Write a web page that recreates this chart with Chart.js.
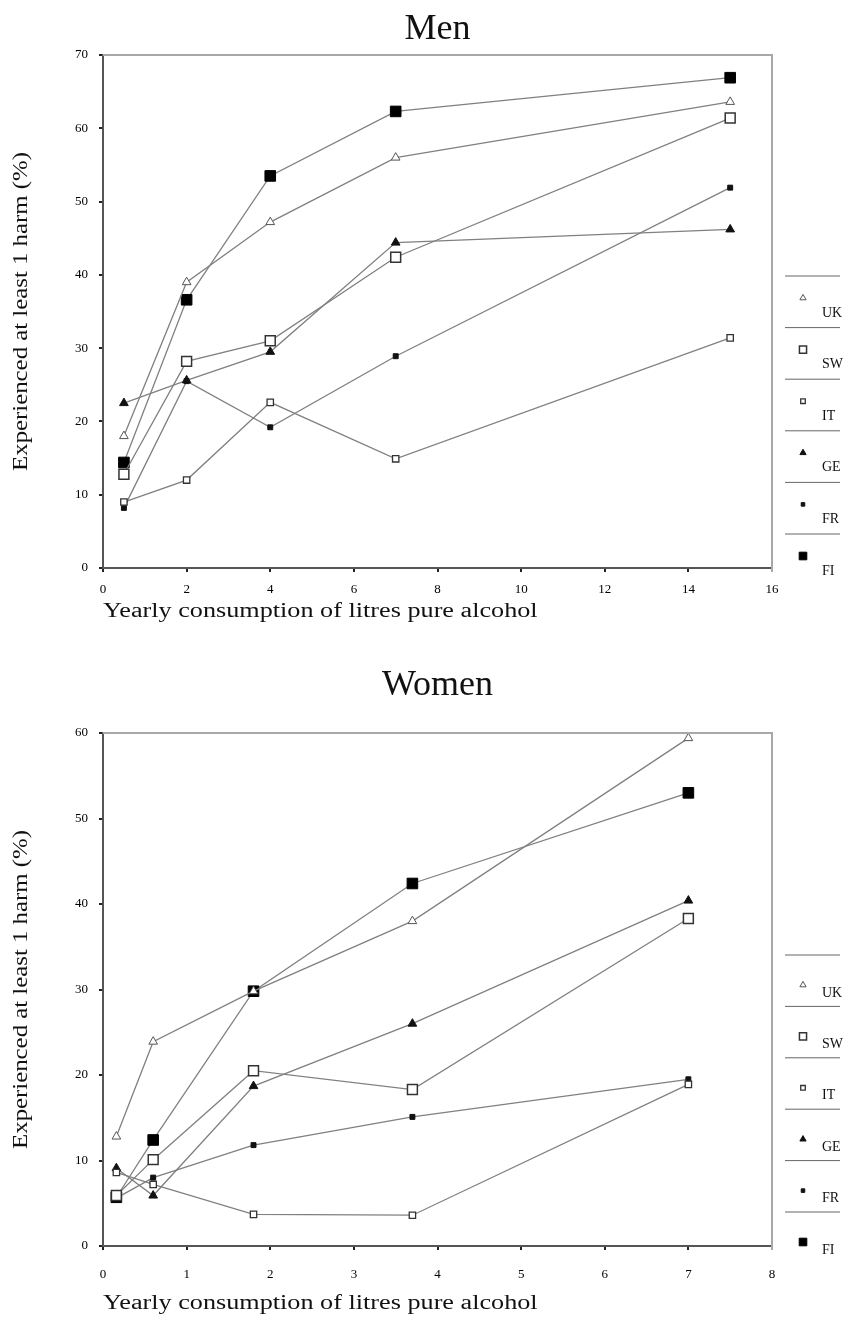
<!DOCTYPE html>
<html>
<head>
<meta charset="utf-8">
<script src="https://cdn.jsdelivr.net/npm/chart.js@4.4.1/dist/chart.umd.min.js"></script>
<style>
  html, body { margin: 0; padding: 0; background: #fff; }
  .panel { position: absolute; left: 0; width: 855px; }
  #men { top: 0; height: 650px; }
  #women { top: 650px; height: 669px; }
</style>
</head>
<body>
<div class="panel" id="men"><canvas id="menChart"></canvas></div>
<div class="panel" id="women"><canvas id="womenChart"></canvas></div>
<script>
/* ====================
   DATA
==================== */
const countries = ["UK", "SW", "IT", "GE", "FR", "FI"];

const menX = [0.5, 2, 4, 7, 15];
const menUK = [18, 39, 47.2, 56, 63.6];
const menSW = [12.8, 28.2, 31, 42.4, 61.4];
const menIT = [9, 12, 22.6, 14.9, 31.4];
const menGE = [22.5, 25.6, 29.5, 44.4, 46.2];
const menFR = [8.2, 25.5, 19.2, 28.9, 51.9];
const menFI = [14.4, 36.6, 53.5, 62.3, 66.9];

const womenX = [0.16, 0.6, 1.8, 3.7, 7];
const womenUK = [12.8, 23.9, 29.8, 38, 59.4];
const womenSW = [5.9, 10.1, 20.5, 18.3, 38.3];
const womenIT = [8.6, 7.2, 3.7, 3.6, 18.9];
const womenGE = [9.1, 5.9, 18.7, 26, 40.4];
const womenFR = [5.6, 8, 11.8, 15.1, 19.5];
const womenFI = [5.7, 12.4, 29.8, 42.4, 53];

const menXTicks = [0, 2, 4, 6, 8, 10, 12, 14, 16];
const menYTicks = [0, 10, 20, 30, 40, 50, 60, 70];
const womenXTicks = [0, 1, 2, 3, 4, 5, 6, 7, 8];
const womenYTicks = [0, 10, 20, 30, 40, 50, 60];

const yTitle = "Experienced at least 1 harm (%)";
const xTitle = "Yearly consumption of litres pure alcohol";

/* ====================
   MARKER STYLES
==================== */
const markers = {
  UK: { pointStyle: "triangle", pointRadius: 5, pointBackgroundColor: "#fff", pointBorderColor: "#555", pointBorderWidth: 1 },
  SW: { pointStyle: "rect", pointRadius: 7, pointBackgroundColor: "#fff", pointBorderColor: "#333", pointBorderWidth: 1.5 },
  IT: { pointStyle: "rect", pointRadius: 4.5, pointBackgroundColor: "#fff", pointBorderColor: "#333", pointBorderWidth: 1.3 },
  GE: { pointStyle: "triangle", pointRadius: 5, pointBackgroundColor: "#111", pointBorderColor: "#111", pointBorderWidth: 1 },
  FR: { pointStyle: "rect", pointRadius: 3.5, pointBackgroundColor: "#111", pointBorderColor: "#111", pointBorderWidth: 1 },
  FI: { pointStyle: "rect", pointRadius: 7.5, pointBackgroundColor: "#000", pointBorderColor: "#000", pointBorderWidth: 1 }
};

function makeDatasets(xs, series) {
  return countries.map((c, i) => ({
    label: c,
    data: xs.map((x, j) => ({ x, y: series[i][j] })),
    showLine: true,
    borderColor: "#808080",
    borderWidth: 1.3,
    tension: 0,
    ...markers[c],
    pointHoverRadius: markers[c].pointRadius
  }));
}

/* ====================
   PLUGINS
==================== */
const frame = {
  id: "frame",
  afterDraw(chart) {
    const { ctx, chartArea: a } = chart;
    ctx.save();
    ctx.strokeStyle = "#a8a8a8";
    ctx.lineWidth = 2;
    ctx.beginPath();
    ctx.moveTo(a.left, a.top);
    ctx.lineTo(a.right, a.top);
    ctx.lineTo(a.right, a.bottom + 4);
    ctx.stroke();
    ctx.restore();
  }
};

// the scanned original has wide, stretched axis titles
const axisTitles = {
  id: "axisTitles",
  afterDraw(chart, args, opts) {
    const { ctx, chartArea: a } = chart;
    ctx.save();
    ctx.fillStyle = "#111";
    ctx.font = "20px 'Liberation Serif'";
    ctx.textBaseline = "middle";

    ctx.save();
    ctx.translate(a.left, opts.xTitleY);
    ctx.scale(opts.xStretch, 1);
    ctx.textAlign = "left";
    ctx.fillText(xTitle, 0, 0);
    ctx.restore();

    ctx.save();
    ctx.translate(opts.yTitleX, (a.top + a.bottom) / 2);
    ctx.rotate(-Math.PI / 2);
    ctx.scale(opts.yStretch, 1);
    ctx.textAlign = "center";
    ctx.fillText(yTitle, 0, 0);
    ctx.restore();

    ctx.restore();
  }
};

const sideLegend = {
  id: "sideLegend",
  afterDraw(chart, args, opts) {
    const ctx = chart.ctx;
    ctx.save();
    chart.data.datasets.forEach((ds, i) => {
      const y = opts.top + i * opts.gap;
      ctx.strokeStyle = "#666";
      ctx.lineWidth = 1;
      ctx.beginPath();
      ctx.moveTo(785, y);
      ctx.lineTo(840, y);
      ctx.stroke();

      ctx.fillStyle = ds.pointBackgroundColor;
      ctx.strokeStyle = ds.pointBorderColor;
      ctx.lineWidth = ds.pointBorderWidth;
      Chart.helpers.drawPoint(ctx, {
        pointStyle: ds.pointStyle,
        radius: ds.pointRadius * 0.72,
        rotation: 0,
        borderWidth: ds.pointBorderWidth
      }, 803, y + opts.markerDy);

      ctx.fillStyle = "#111";
      ctx.font = "14px 'Liberation Serif'";
      ctx.textBaseline = "middle";
      ctx.textAlign = "left";
      ctx.fillText(ds.label, 822, y + opts.textDy);
    });
    ctx.restore();
  }
};

/* ====================
   CHART BUILDER
==================== */
function buildChart(canvasId, cfg) {
  return new Chart(document.getElementById(canvasId), {
    type: "scatter",
    data: { datasets: makeDatasets(cfg.xs, cfg.series) },
    options: {
      responsive: true,
      maintainAspectRatio: false,
      animation: false,
      layout: { padding: { left: 0, right: 83, top: 0, bottom: 0 } },
      plugins: {
        legend: { display: false },
        tooltip: { enabled: false },
        title: {
          display: true,
          fullSize: false,
          text: cfg.title,
          color: "#111",
          font: { family: "'Liberation Serif'", size: 36, weight: "normal", lineHeight: 1.2 },
          padding: cfg.titlePadding
        },
        sideLegend: cfg.legend,
        axisTitles: cfg.axisTitles
      },
      scales: {
        x: {
          type: "linear",
          min: cfg.xTicks[0],
          max: cfg.xTicks[cfg.xTicks.length - 1],
          afterBuildTicks: s => { s.ticks = cfg.xTicks.map(v => ({ value: v })); },
          afterFit: s => { s.height = cfg.xAxisHeight; },
          border: { color: "#555", width: 2 },
          grid: { drawOnChartArea: false, drawTicks: true, tickLength: 4, color: "#222", lineWidth: 2 },
          ticks: {
            color: "#000",
            padding: cfg.xTickPad,
            font: { family: "'Liberation Serif'", size: 13 },
            maxRotation: 0
          },
          title: { display: false }
        },
        y: {
          min: cfg.yTicks[0],
          max: cfg.yTicks[cfg.yTicks.length - 1],
          afterBuildTicks: s => { s.ticks = cfg.yTicks.map(v => ({ value: v })); },
          afterFit: s => { s.width = 103; },
          border: { color: "#555", width: 2 },
          grid: { drawOnChartArea: false, drawTicks: true, tickLength: 4, color: "#222", lineWidth: 2 },
          ticks: {
            color: "#000",
            padding: 11,
            font: { family: "'Liberation Serif'", size: 13 }
          },
          title: { display: false }
        }
      }
    },
    plugins: [frame, axisTitles, sideLegend]
  });
}

/* ====================
   INIT
==================== */
buildChart("menChart", {
  title: "Men",
  xs: menX,
  series: [menUK, menSW, menIT, menGE, menFR, menFI],
  xTicks: menXTicks,
  yTicks: menYTicks,
  titlePadding: { top: 8.4, bottom: 3.4 },
  xAxisHeight: 82,
  xTickPad: 10,
  legend: { top: 276, gap: 51.6, markerDy: 22, textDy: 37 },
  axisTitles: { xTitleY: 612, xStretch: 1.31, yTitleX: 22, yStretch: 1.24 }
});

buildChart("womenChart", {
  title: "Women",
  xs: womenX,
  series: [womenUK, womenSW, womenIT, womenGE, womenFR, womenFI],
  xTicks: womenXTicks,
  yTicks: womenYTicks,
  titlePadding: { top: 14.4, bottom: 25.4 },
  xAxisHeight: 73,
  xTickPad: 17,
  legend: { top: 305, gap: 51.4, markerDy: 30, textDy: 38 },
  axisTitles: { xTitleY: 654, xStretch: 1.31, yTitleX: 22, yStretch: 1.24 }
});
</script>
</body>
</html>
